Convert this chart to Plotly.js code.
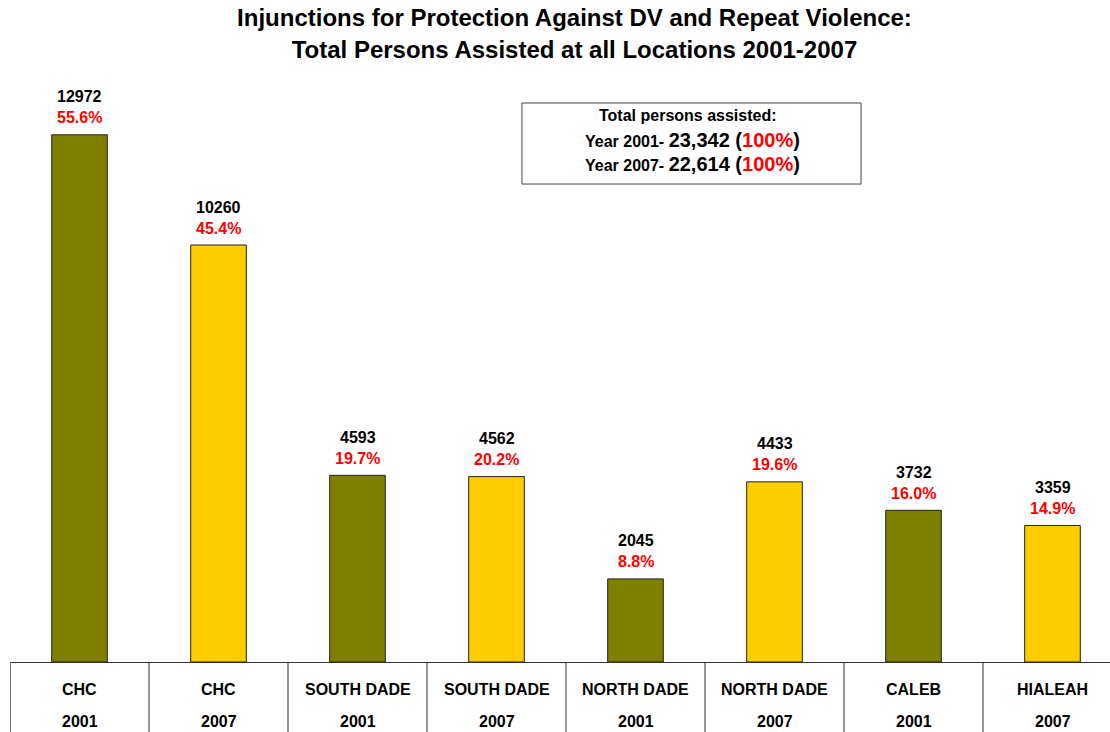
<!DOCTYPE html>
<html>
<head>
<meta charset="utf-8">
<script src="https://cdn.plot.ly/plotly-3.0.1.min.js"></script>
<style>
html, body { margin: 0; padding: 0; overflow: hidden; background: #fff; }
#chart { width: 1122px; height: 732px; }
</style>
</head>
<body>
<div id="chart"></div>
<script>
// ---- data ----
const locations = ["CHC", "CHC", "SOUTH DADE", "SOUTH DADE", "NORTH DADE", "NORTH DADE", "CALEB", "HIALEAH"];
const years = ["2001", "2007", "2001", "2007", "2001", "2007", "2001", "2007"];
const persons = [12972, 10260, 4593, 4562, 2045, 4433, 3732, 3359];
const percents = ["55.6%", "45.4%", "19.7%", "20.2%", "8.8%", "19.6%", "16.0%", "14.9%"];
const summaryYears = ["2001", "2007"];
const summaryTotals = ["23,342", "22,614"];
const summaryPercents = ["100%", "100%"];

const OLIVE = "#808000";
const GOLD = "#FFCC00";
const FONT = "Arial, 'Liberation Sans', Helvetica, sans-serif";

const cats = locations.map((l, i) => l + " " + years[i]);
const colors = years.map(y => (y === "2001" ? OLIVE : GOLD));

const trace = {
  type: "bar",
  x: cats,
  y: persons,
  width: 0.4,
  marker: { color: colors, line: { color: "#222", width: 1 } },
  hoverinfo: "x+y"
};

const annotations = [];
const shapes = [];
cats.forEach((c, i) => {
  annotations.push({
    x: c, y: persons[i], xref: "x", yref: "y",
    text: "<b>" + persons[i] + "</b>", showarrow: false,
    yanchor: "middle", yshift: 38,
    font: { family: FONT, size: 16, color: "#000" }
  });
  annotations.push({
    x: c, y: persons[i], xref: "x", yref: "y",
    text: "<b>" + percents[i] + "</b>", showarrow: false,
    yanchor: "middle", yshift: 17,
    font: { family: FONT, size: 16, color: "#FF0000" }
  });
  annotations.push({
    x: c, y: 0, xref: "x", yref: "y",
    text: "<b>" + locations[i] + "</b>", showarrow: false,
    yanchor: "middle", yshift: -27,
    font: { family: FONT, size: 16, color: "#000" }
  });
  annotations.push({
    x: c, y: 0, xref: "x", yref: "y",
    text: "<b>" + years[i] + "</b>", showarrow: false,
    yanchor: "middle", yshift: -59,
    font: { family: FONT, size: 16, color: "#000" }
  });
});
// dividers under the axis between categories
for (let i = 0; i <= cats.length; i++) {
  shapes.push({
    type: "line", xref: "x", yref: "paper",
    x0: i - 0.5, x1: i - 0.5, y0: 0, y1: -0.125,
    line: { color: i === 0 ? "#777" : "#333", width: i === 0 ? 2 : 1 }
  });
}
// summary box
shapes.push({
  type: "rect", xref: "paper", yref: "paper",
  x0: 0.4604, x1: 0.7653, y0: 0.840, y1: 0.9824,
  fillcolor: "#fff", line: { color: "#444", width: 1 }
});
annotations.push({
  xref: "paper", yref: "paper", x: 0.6097, y: 0.9596,
  text: "<b>Total persons assisted:</b>", showarrow: false,
  xanchor: "center", yanchor: "middle",
  font: { family: FONT, size: 16, color: "#000" }
});
summaryYears.forEach((yr, k) => {
  annotations.push({
    xref: "paper", yref: "paper", x: 0.6138, y: 0.9174 - k * 0.0422,
    text: "<b>Year " + yr + "- </b><span style='font-size:20px'><b>" + summaryTotals[k] +
          " (<span style='color:#FF0000'>" + summaryPercents[k] + "</span>)</b></span>",
    showarrow: false, xanchor: "center", yanchor: "middle",
    font: { family: FONT, size: 16, color: "#000" }
  });
});

const layout = {
  width: 1122, height: 732,
  margin: { l: 10, r: 0, t: 93, b: 70 },
  paper_bgcolor: "#fff", plot_bgcolor: "#fff",
  title: {
    text: "<b>Injunctions for Protection Against DV and Repeat Violence:<br>Total Persons Assisted at all Locations 2001-2007</b>",
    font: { family: FONT, size: 24, color: "#000" },
    x: 0.512, xref: "container", y: 0.964, yref: "container", yanchor: "top"
  },
  showlegend: false,
  bargap: 0.6,
  xaxis: {
    type: "category", range: [-0.5, 7.5],
    showticklabels: false, ticks: "", showgrid: false, zeroline: false,
    showline: true, linecolor: "#333", linewidth: 1, fixedrange: true
  },
  yaxis: {
    range: [0, 14000], visible: false, showgrid: false, zeroline: false, fixedrange: true
  },
  annotations: annotations,
  shapes: shapes
};

Plotly.newPlot("chart", [trace], layout, { displayModeBar: false, staticPlot: true });
</script>
</body>
</html>
